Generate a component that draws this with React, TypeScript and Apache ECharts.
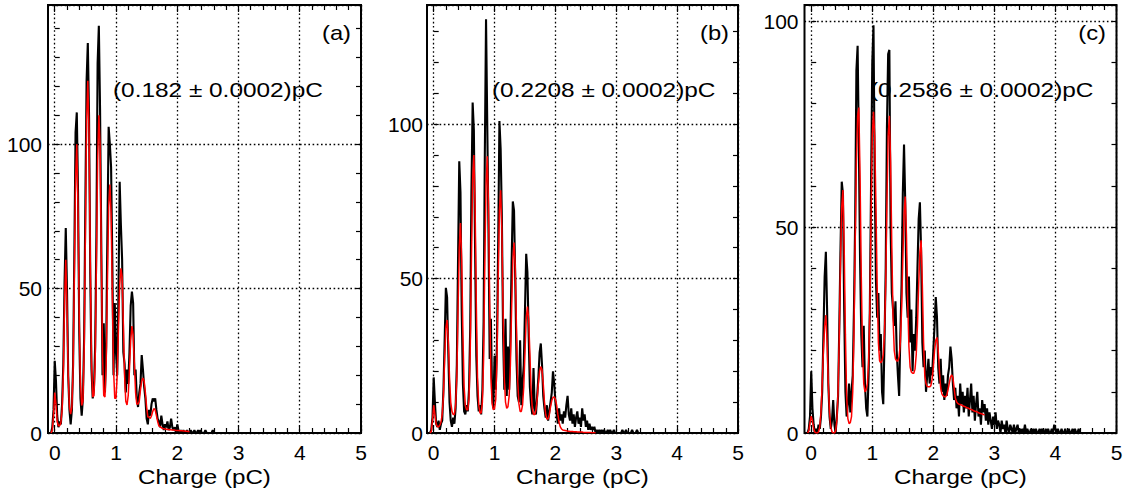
import React, { useEffect, useRef } from "react";
import * as echarts from "echarts";

// Histogram bins: first bin centre and bin width (pC)
const X_START = -0.06;
const STEP = 0.02;

// Panel (a)
const blackA = [
  0, 2, 8, 25, 18, 6, 2, 4, 3, 10,
  24, 52, 71, 50, 20, 8, 3, 8, 24, 62,
  104, 111, 84, 35, 12, 6, 12, 33, 80, 122,
  135, 110, 55, 22, 12, 15, 30, 68, 128, 141,
  112, 65, 20, 38, 14, 30, 70, 106, 100, 92,
  60, 20, 45, 28, 20, 48, 87, 72, 60, 28,
  24, 14, 22, 17, 28, 44, 49, 45, 20, 22,
  12, 9, 14, 17, 27, 22, 16, 12, 5, 3,
  8, 6, 10, 12, 11, 12, 8, 5, 4, 2,
  6, 3, 1, 3, 2, 4, 1, 2, 5, 2,
  1, 2, 0, 3, 1, 0, 1, 0, 1, 0,
  0, 1, 0, 0, 1, 0, 0, 1, 0, 0,
  1, 0, 1, 0, 0, 0, 1, 0, 0, 0,
  0, 0, 1, 0,
];
const redA = [
  0, 1, 6, 14, 10, 4, 2.5, 2.5, 3.5, 8,
  20, 45, 60, 44, 20, 9, 6.5, 9, 22, 55,
  88, 100, 78, 40, 17, 9.5, 11, 28, 68, 108,
  122, 104, 60, 25, 12.5, 13, 24, 58, 94, 110,
  100, 62, 27, 13, 12.5, 24, 52, 78, 86, 76,
  48, 22, 12, 12, 20, 36, 51, 57, 54, 38,
  20, 11, 9.7, 13, 22, 32, 37, 34, 24, 14,
  10, 10, 11, 15, 18, 19, 18, 14, 9, 5.5,
  5.5, 5, 6, 7.5, 8.5, 8, 6, 4, 2.5, 2.2,
  1.8, 1.6, 1.5, 1.4, 1.3, 1.2, 1.2, 1.1, 1.1, 1.0,
  1.0, 1.0, 0.9, 0.9, 0.9, 0.8, 0.8, 0.8, 0.7, 0.7,
  0.6, 0.6, 0.5, 0.5,
];

// Panel (b)
const blackB = [
  0, 1, 5, 18, 10, 3, 2, 4, 1, 3,
  4, 14, 30, 47, 44, 26, 10, 4, 2, 5,
  3, 8, 22, 56, 88, 78, 40, 16, 7, 6,
  9, 7, 14, 34, 78, 107, 98, 60, 25, 12,
  7, 9, 6, 14, 36, 90, 134, 100, 66, 24,
  37, 12, 8, 25, 14, 30, 62, 101, 92, 70,
  32, 14, 37, 12, 28, 14, 30, 55, 75, 72,
  50, 24, 12, 10, 30, 9, 16, 22, 40, 58,
  52, 32, 15, 9, 6, 21, 8, 6, 12, 18,
  26, 29, 22, 12, 8, 5, 9, 4, 7, 10,
  13, 20, 16, 10, 6, 3, 8, 4, 6, 3,
  7, 5, 9, 12, 6, 4, 8, 3, 6, 2,
  5, 7, 3, 5, 2, 8, 4, 6, 2, 4,
  1, 3, 1, 2, 1, 2, 0, 1, 0, 1,
  0, 1, 0, 1, 0, 0, 1, 0, 1, 0,
  0, 1, 0, 0, 0, 0, 0, 0, 1, 0,
  0, 1, 0, 0, 0, 0, 1, 0, 0, 0,
  1, 0, 0, 0,
];
const redB = [
  0, 0.5, 4, 9, 6, 3, 2, 2, 2.5, 3.5,
  6, 12, 24, 34, 36.6, 30, 18, 10, 7, 6,
  6, 9, 18, 40, 60, 68, 56, 32, 15, 9,
  7.5, 7.5, 11, 26, 56, 82, 90, 74, 42, 18,
  9, 6.5, 6.5, 10, 24, 55, 80, 89.6, 74, 42,
  18, 9.5, 7.5, 8, 11, 24, 50, 72, 78.6, 66,
  40, 18, 10, 8, 8.5, 12, 22, 40, 56, 61.7,
  54, 34, 17, 9.5, 7, 7, 9, 15, 26, 37,
  40.9, 37, 26, 14, 8, 6, 6, 7.5, 11, 16,
  20, 21.5, 20.5, 16, 10, 6, 4.5, 4.5, 6, 8.5,
  10.5, 11.5, 11.7, 11, 9, 6, 3.5, 2, 1.3, 1,
  0.9, 0.8, 0.7, 0.6, 0.6, 0.5, 0.5, 0.5, 0.4, 0.4,
  0.4, 0.3, 0.3, 0.3, 0.3, 0.3, 0.2, 0.2, 0.2, 0.2,
  0.2, 0.2, 0.2, 0.1, 0.1, 0.1, 0.1,
];

// Panel (c)
const blackC = [
  0, 1, 4, 15, 6, 2, 0, 1, 0, 2,
  1, 4, 10, 24, 38, 44, 30, 12, 4, 1,
  3, 8, 2, 0, 4, 9, 26, 45, 61, 58,
  30, 10, 4, 7, 12, 5, 10, 14, 30, 52,
  88, 94, 70, 42, 24, 16, 26, 12, 6, 4,
  14, 30, 60, 90, 99, 62, 37, 28, 34, 20,
  24, 10, 7, 22, 40, 74, 92, 93, 50, 34,
  30, 26, 32, 20, 14, 9, 24, 36, 58, 70,
  56, 34, 28, 38, 22, 30, 15, 24, 20, 28,
  40, 52, 56, 44, 22, 16, 20, 10, 14, 18,
  12, 16, 14, 20, 26, 33, 28, 16, 12, 18,
  10, 14, 8, 12, 9, 14, 16, 21, 18, 12,
  8, 11, 6, 9, 4, 12, 7, 10, 5, 9,
  6, 11, 4, 8, 12, 5, 9, 3, 7, 10,
  4, 6, 2, 8, 5, 7, 3, 6, 2, 5,
  3, 1, 4, 2, 5, 1, 3, 2, 0, 3,
  1, 2, 0, 3, 1, 0, 2, 1, 0, 2,
  0, 1, 2, 0, 1, 0, 1, 0, 2, 0,
  1, 0, 0, 1, 0, 1, 0, 1, 0, 0,
  1, 0, 1, 0, 0, 1, 0, 1, 0, 0,
  1, 0, 2, 1, 0, 1, 0, 0, 1, 0,
  0, 1, 0, 0, 1, 0, 0, 1, 0, 1,
  0, 0, 1, 0,
];
const redC = [
  0, 0.5, 2.5, 4.1, 3, 1, 0.2, 0, 0, 0.3,
  1.5, 5, 12, 20, 26, 28.6, 22, 12, 5, 1.5,
  0.3, 0, 0, 0.5, 3, 10, 24, 42, 55, 59,
  45, 24, 9, 3.5, 2.3, 2.5, 4, 10, 24, 46,
  66, 77, 79, 62, 38, 20, 12, 10, 10.5, 12,
  17, 30, 52, 72, 78, 72, 55, 36, 22, 17.5,
  17, 17.5, 19, 24, 36, 56, 72, 77, 66, 45,
  28, 20, 18, 17.5, 17.5, 18.5, 22, 30, 42, 53,
  57.4, 48, 32, 21, 16, 14.8, 14.5, 14.5, 15.5, 19,
  26, 36, 44, 46.8, 36, 22, 14, 12, 11.3, 11.2,
  11.2, 11.5, 13, 16, 20, 22.5, 23.2, 20, 15, 11,
  9.5, 9, 8.8, 8.8, 9.2, 10.5, 12, 13.5, 14.1, 13.5,
  11, 8.5, 7.6, 7.2, 7.0, 6.9, 6.8, 6.6, 6.5, 6.4,
  6.2, 6.1, 6.0, 5.8, 5.7, 5.6, 5.4, 5.3, 5.2, 5.1,
  4.9, 4.8, 4.7, 4.6, 4.5, 4.4,
];

const PANEL_TAGS = ["(a)", "(b)", "(c)"];
const GAIN_NOTES = ["(0.182 \u00b1 0.0002)pC", "(0.2208 \u00b1 0.0002)pC", "(0.2586 \u00b1 0.0002)pC"];
const Y_MAX = [148.2, 138.6, 103.9];
const X_MIN = -0.11;
const X_MAX = 5;
const X_NAME = "Charge (pC)";

const SERIES = [
  { black: blackA, red: redA },
  { black: blackB, red: redB },
  { black: blackC, red: redC },
];

// layout (pixels)
const LAYOUT = [
  { left: 48, width: 313, tagRight: 351, noteLeft: 113 },
  { left: 427, width: 311, tagRight: 729, noteLeft: 492 },
  { left: 804.5, width: 312, tagRight: 1106, noteLeft: 870 },
];
const TOP = 5;
const HEIGHT = 428;
const FONT = "'Liberation Sans', Arial, Helvetica, sans-serif";

function toPairs(vals: number[]) {
  return vals.map((v, i) => [Math.round((X_START + i * STEP) * 1000) / 1000, v]);
}

function buildOption() {
  const grid: any[] = [];
  const xAxis: any[] = [];
  const yAxis: any[] = [];
  const series: any[] = [];
  const graphic: any[] = [];
  const dotted = { color: "#000", width: 1.3, type: [1.6, 2.6] };

  LAYOUT.forEach((L, p) => {
    const ymax = Y_MAX[p];
    grid.push({
      left: L.left, top: TOP, width: L.width, height: HEIGHT,
      show: true, borderColor: "#000", borderWidth: 2, backgroundColor: "transparent",
      containLabel: false, outerBoundsMode: "none",
    });
    const off = (L.width * (0 - X_MIN)) / (X_MAX - X_MIN);
    grid.push({
      left: L.left + off, top: TOP, width: L.width - off, height: HEIGHT,
      show: false, containLabel: false, outerBoundsMode: "none",
    });
    const gA = 2 * p, gB = 2 * p + 1;

    // x axes
    xAxis.push({ type: "value", gridIndex: gA, min: X_MIN, max: X_MAX, show: false });
    const tickCommon = {
      axisLine: { show: false },
      axisTick: { show: true, inside: true, length: 7, lineStyle: { color: "#000", width: 1.2 } },
      minorTick: { show: true, splitNumber: 5, length: 5, lineStyle: { color: "#000", width: 1.2 } },
    };
    xAxis.push({
      type: "value", gridIndex: gB, min: 0, max: 5, interval: 1, position: "bottom",
      ...tickCommon,
      splitLine: { show: true, lineStyle: dotted },
      axisLabel: { show: true, fontSize: 21, color: "#000", fontFamily: FONT, margin: 9 },
    });
    xAxis.push({
      type: "value", gridIndex: gB, min: 0, max: 5, interval: 1, position: "top",
      ...tickCommon,
      splitLine: { show: false },
      axisLabel: { show: false },
    });

    // y axes
    const yTick = { show: true, inside: true, length: 5, lineStyle: { color: "#000", width: 1.2 } };
    yAxis.push({
      type: "value", gridIndex: gA, min: 0, max: ymax, interval: 10, position: "left",
      axisLine: { show: false }, axisTick: yTick, splitLine: { show: false },
      axisLabel: {
        show: true, fontSize: 21, color: "#000", fontFamily: FONT, margin: p === 1 ? 4 : 6,
        formatter: (v: number) => (Math.abs(v % 50) < 1e-9 ? String(v) : ""),
      },
    });
    yAxis.push({
      type: "value", gridIndex: gA, min: 0, max: ymax, interval: 10, position: "right",
      axisLine: { show: false }, axisTick: yTick, splitLine: { show: false },
      axisLabel: { show: false },
    });
    yAxis.push({
      type: "value", gridIndex: gA, min: 0, max: ymax, interval: 50, position: "left",
      axisLine: { show: false }, axisTick: { show: false }, axisLabel: { show: false },
      splitLine: { show: true, lineStyle: dotted },
    });
    yAxis.push({ type: "value", gridIndex: gB, min: 0, max: 1, show: false });

    const S = SERIES[p];
    series.push({
      type: "line", xAxisIndex: 3 * p, yAxisIndex: 4 * p, data: toPairs(S.black),
      showSymbol: false, symbol: "none", clip: true, z: 3,
      lineStyle: { color: "#000", width: 2.1 },
    });
    series.push({
      type: "line", xAxisIndex: 3 * p, yAxisIndex: 4 * p, data: toPairs(S.red),
      showSymbol: false, symbol: "none", clip: true, z: 4,
      lineStyle: { color: "#ff0000", width: 1.5 },
    });

    graphic.push({
      type: "text", x: L.noteLeft, y: 90, scaleX: 1.19, z: 10,
      style: {
        text: GAIN_NOTES[p], fontSize: 20.5, fontFamily: FONT, fill: "#000",
        align: "left", verticalAlign: "middle", textAlign: "left", textVerticalAlign: "middle",
      },
    });
    graphic.push({
      type: "text", x: L.tagRight, y: 33, scaleX: 1.13, z: 10,
      style: {
        text: PANEL_TAGS[p], fontSize: 21, fontFamily: FONT, fill: "#000",
        align: "right", verticalAlign: "middle", textAlign: "right", textVerticalAlign: "middle",
      },
    });
    graphic.push({
      type: "text", x: L.left + L.width / 2, y: 477.5, scaleX: 1.15, z: 10,
      style: {
        text: X_NAME, fontSize: 21, fontFamily: FONT, fill: "#000",
        align: "center", verticalAlign: "middle", textAlign: "center", textVerticalAlign: "middle",
      },
    });
  });

  return {
    animation: false,
    backgroundColor: "#fff",
    textStyle: { fontFamily: FONT },
    grid, xAxis, yAxis, series, graphic,
  };
}

export default function App() {
  const ref = useRef<HTMLDivElement>(null);
  useEffect(() => {
    if (!ref.current) return;
    const chart = echarts.init(ref.current, undefined, { renderer: "svg" });
    chart.setOption(buildOption() as any);
    return () => chart.dispose();
  }, []);
  return (
    <div
      ref={ref}
      style={{ position: "absolute", left: 0, top: 0, width: 1130, height: 495, background: "#fff" }}
    />
  );
}
